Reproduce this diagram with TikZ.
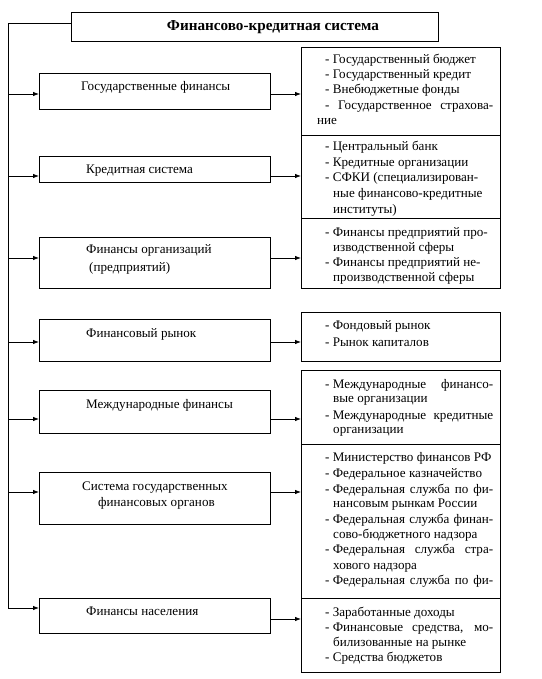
\documentclass[tikz,border=0pt]{standalone}
\usepackage{fontspec}
\setmainfont{Liberation Serif}
\usetikzlibrary{arrows.meta}
\newcommand{\jline}[1]{\makebox[168pt][s]{#1}}
\newcommand{\dsh}{-\kern3.2pt}
\tikzset{
  box/.style={draw, line width=0.8pt, anchor=north west, inner sep=0pt, outer sep=0pt},
  txt/.style={anchor=base west, inner sep=0pt, font=\fontsize{13.1}{15}\selectfont},
  ttl/.style={anchor=base, inner sep=0pt, font=\bfseries\fontsize{15.2}{17}\selectfont},
  conn/.style={line width=0.8pt},
  arr/.style={line width=0.8pt, -{Latex[length=6pt,width=4.5pt]}}
}
\begin{document}
\begin{tikzpicture}[x=1pt,y=-1pt]
\useasboundingbox (0,0) rectangle (541,679);
% title
\node[box, minimum width=367pt, minimum height=29pt] (T) at (71,12) {};
\node[ttl] (Tt) at (273,31) {Финансово-кредитная система};
% left boxes
\node[box, minimum width=231pt, minimum height=36pt] (L1) at (39,73) {};
\node[box, minimum width=231pt, minimum height=26pt] (L2) at (39,156) {};
\node[box, minimum width=231pt, minimum height=51pt] (L3) at (39,237) {};
\node[box, minimum width=231pt, minimum height=42pt] (L4) at (39,319) {};
\node[box, minimum width=231pt, minimum height=43pt] (L5) at (39,390) {};
\node[box, minimum width=231pt, minimum height=52pt] (L6) at (39,472) {};
\node[box, minimum width=231pt, minimum height=35pt] (L7) at (39,598) {};
% right boxes
\node[box, minimum width=199pt, minimum height=88pt] (R1) at (301,47) {};
\node[box, minimum width=199pt, minimum height=83pt] (R2) at (301,135) {};
\node[box, minimum width=199pt, minimum height=70pt] (R3) at (301,218) {};
\node[box, minimum width=199pt, minimum height=49pt] (R4) at (301,312) {};
\node[box, minimum width=199pt, minimum height=74pt] (R5) at (301,370) {};
\node[box, minimum width=199pt, minimum height=154pt] (R6) at (301,444) {};
\node[box, minimum width=199pt, minimum height=74pt] (R7) at (301,598) {};
% left texts
\node[txt] at (81,91) {Государственные финансы};
\node[txt] at (86,173) {Кредитная система};
\node[txt] at (86,253) {Финансы организаций};
\node[txt] at (89,271) {(предприятий)};
\node[txt] at (86,337) {Финансовый рынок};
\node[txt] at (86,408) {Международные финансы};
\node[txt] at (82,490) {Система государственных};
\node[txt] at (98,506) {финансовых органов};
\node[txt] at (86,615) {Финансы населения};
% right texts
\node[txt] at (325,64) {\dsh Государственный бюджет};
\node[txt] at (325,79) {\dsh Государственный кредит};
\node[txt] at (325,94) {\dsh Внебюджетные фонды};
\node[txt] at (325,110) {\jline{- Государственное страхова-}};
\node[txt] at (317,125) {ние};
\node[txt] at (325,151) {\dsh Центральный банк};
\node[txt] at (325,167) {\dsh Кредитные организации};
\node[txt] at (325,182) {\dsh СФКИ (специализирован-};
\node[txt] at (333,197) {ные финансово-кредитные};
\node[txt] at (333,213) {институты)};
\node[txt] at (325,236) {\dsh Финансы предприятий про-};
\node[txt] at (333,251) {изводственной сферы};
\node[txt] at (325,266) {\dsh Финансы предприятий не-};
\node[txt] at (333,281) {производственной сферы};
\node[txt] at (325,329) {\dsh Фондовый рынок};
\node[txt] at (325,346) {\dsh Рынок капиталов};
\node[txt] at (325,388) {\jline{\dsh Международные финансо-}};
\node[txt] at (333,402) {вые организации};
\node[txt] at (325,419) {\jline{\dsh Международные кредитные}};
\node[txt] at (333,433) {организации};
\node[txt] at (325,461) {\dsh Министерство финансов РФ};
\node[txt] at (325,477) {\dsh Федеральное казначейство};
\node[txt] at (325,493) {\jline{\dsh Федеральная служба по фи-}};
\node[txt] at (333,507) {нансовым рынкам России};
\node[txt] at (325,523) {\jline{\dsh Федеральная служба финан-}};
\node[txt] at (333,538) {сово-бюджетного надзора};
\node[txt] at (325,553) {\jline{\dsh Федеральная служба стра-}};
\node[txt] at (333,569) {хового надзора};
\node[txt] at (325,584) {\jline{\dsh Федеральная служба по фи-}};
\node[txt] at (325,616) {\dsh Заработанные доходы};
\node[txt] at (325,631) {\jline{\dsh Финансовые средства, мо-}};
\node[txt] at (333,646) {билизованные на рынке};
\node[txt] at (325,661) {\dsh Средства бюджетов};
% trunk
\coordinate (top) at (8,23);
\coordinate (bot) at (8,608);
\draw[conn] (T.west |- top) -- (top) -- (bot);
\draw[arr] (bot) -- (L7.west |- bot);
\foreach \n/\yy in {1/94,2/176,3/258,4/342,5/419,6/492}{
  \draw[arr] (top |- 0,\yy) -- (L\n.west |- 0,\yy);
  \draw[arr] (L\n.east |- 0,\yy) -- (R\n.west |- 0,\yy);
}
\draw[arr] (L7.east |- 0,619) -- (R7.west |- 0,619);
\end{tikzpicture}
\end{document}
